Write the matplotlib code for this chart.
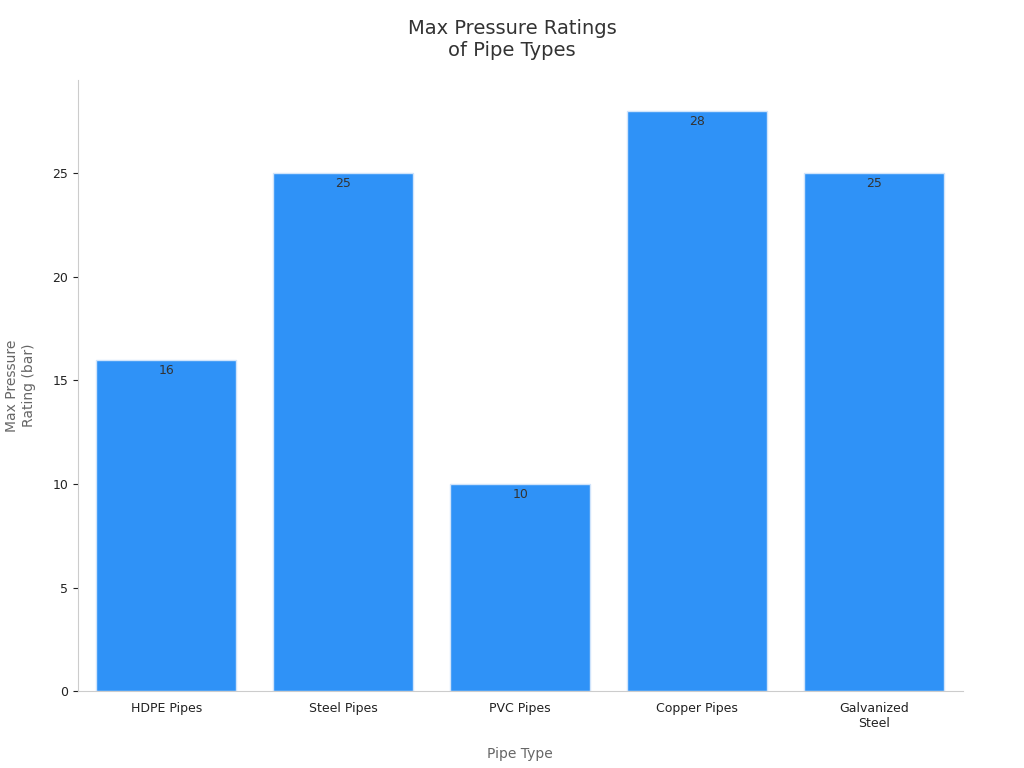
import matplotlib
matplotlib.use("Agg")
import matplotlib.pyplot as plt

categories = ["HDPE Pipes", "Steel Pipes", "PVC Pipes", "Copper Pipes", "Galvanized\nSteel"]
values = [16, 25, 10, 28, 25]

fig = plt.figure(figsize=(10.24, 7.68), dpi=100)
ax = fig.add_axes([0.076, 0.1, 0.864, 0.796])
x = range(len(categories))
bars = ax.bar(x, values, width=0.79, color="#2f92f7", edgecolor="#d0e4fb", linewidth=1)
for xi, v in zip(x, values):
    ax.text(xi, v - 0.2, f"{v}", ha="center", va="top", fontsize=9, color="#333333")
ax.set_xlim(-0.5, 4.5)
ax.set_ylim(0, 29.5)
ax.set_yticks([0, 5, 10, 15, 20, 25])
ax.set_xticks(list(x))
ax.set_xticklabels(categories, fontsize=9, color="#222222")
ax.tick_params(axis="y", labelsize=9, colors="#222222")
ax.tick_params(axis="x", length=0, pad=8)
for s in ["top", "right"]:
    ax.spines[s].set_visible(False)
for s in ["left", "bottom"]:
    ax.spines[s].set_color("#cccccc")
ax.set_xlabel("Pipe Type", fontsize=10, color="#666666", labelpad=12)
ax.set_ylabel("Max Pressure\nRating (bar)", fontsize=10, color="#666666", labelpad=12)
fig.suptitle("Max Pressure Ratings\nof Pipe Types", fontsize=14, color="#333333", y=0.975)
fig.savefig("out.png", dpi=100)
